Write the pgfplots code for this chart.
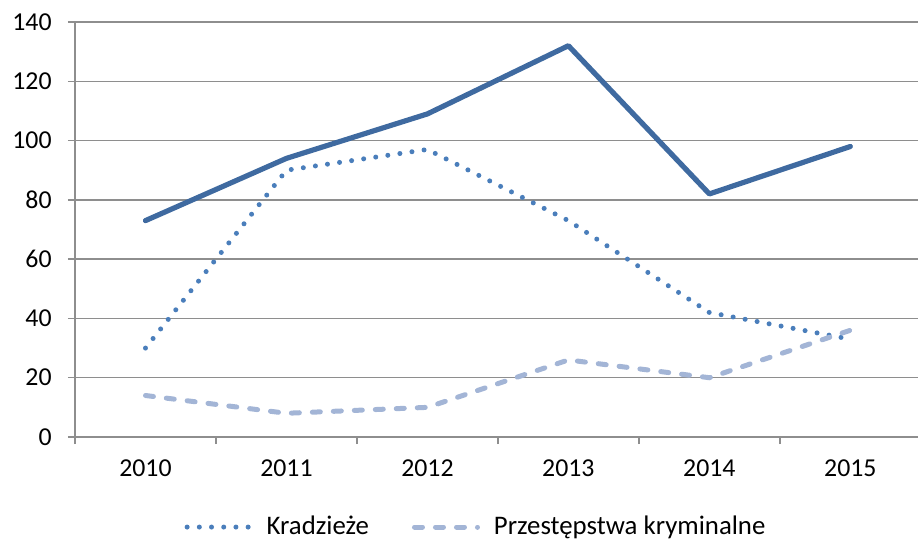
\documentclass[border=0pt]{standalone}
\usepackage{fontspec}
\setmainfont{Carlito}
\usepackage{pgfplots}
\pgfplotsset{compat=1.18}
\definecolor{solidc}{HTML}{3F6AA0}
\definecolor{dotc}{HTML}{4A7EBB}
\definecolor{dashc}{HTML}{A3B5D6}
\definecolor{gridc}{HTML}{8E8E8E}
\newcommand{\lbl}{\fontsize{12.9bp}{15bp}\selectfont}
\newcommand{\leg}{\fontsize{13.4bp}{16bp}\selectfont}
\begin{document}
\begin{tikzpicture}
\begin{axis}[
  width=421.5bp, height=207.5bp, scale only axis,
  xmin=-0.5, xmax=5.48, ymin=0, ymax=140,
  ytick={0,20,...,140},
  xtick={-0.5,0.5,1.5,2.5,3.5,4.5}, xticklabels={},
  extra x ticks={0,1,2,3,4,5},
  extra x tick labels={2010,2011,2012,2013,2014,2015},
  extra x tick style={major tick length=0pt, grid=none},
  axis x line*=bottom, axis y line*=left,
  axis line style={gridc, line width=0.75bp, -},
  ymajorgrids, major grid style={gridc, line width=0.75bp},
  tick style={gridc, line width=0.75bp},
  tick align=outside, major tick length=3.5bp,
  /pgf/number format/assume math mode=true,
  ticklabel style={font=\lbl, text=black},
  yticklabel style={anchor=east, inner sep=0pt, xshift=-8bp},
  xticklabel style={anchor=north, inner sep=0pt, yshift=-11bp},
  legend style={at={(0.4745,-0.217)}, anchor=center, draw=none, fill=none,
    legend columns=2, font=\leg, inner sep=0pt,
    /tikz/every odd column/.append style={column sep=7bp},
    /tikz/every even column/.append style={column sep=21.5bp},
    nodes={inner sep=0pt}},
  legend image code/.code={\draw[#1] (0bp,0bp) -- (31.5bp,0bp);},
]
\coordinate (pbl) at (rel axis cs:0,0);
\coordinate (ptr) at (rel axis cs:1,1);
\addplot[solidc, line width=2.6bp, line cap=round, line join=round, forget plot]
  coordinates {(0,73) (1,94) (2,109) (3,132) (4,82) (5,98)};
\addplot[dotc, line width=2.5bp, line cap=round, dash pattern=on 0bp off 6.1bp]
  coordinates {(0,30) (1,90) (2,97) (3,73) (4,42) (5,33)};
\addlegendentry{Kradzieże}
\addplot[dashc, line width=2.5bp, line cap=round, dash pattern=on 4bp off 6.5bp]
  coordinates {(0,14) (1,8) (2,10) (3,26) (4,20) (5,36)};
\addlegendentry{Przestępstwa kryminalne}
\end{axis}
\pgfresetboundingbox
\path[use as bounding box] ([xshift=-37.5bp,yshift=-51bp]pbl) rectangle ([yshift=11bp]ptr);
\end{tikzpicture}
\end{document}
